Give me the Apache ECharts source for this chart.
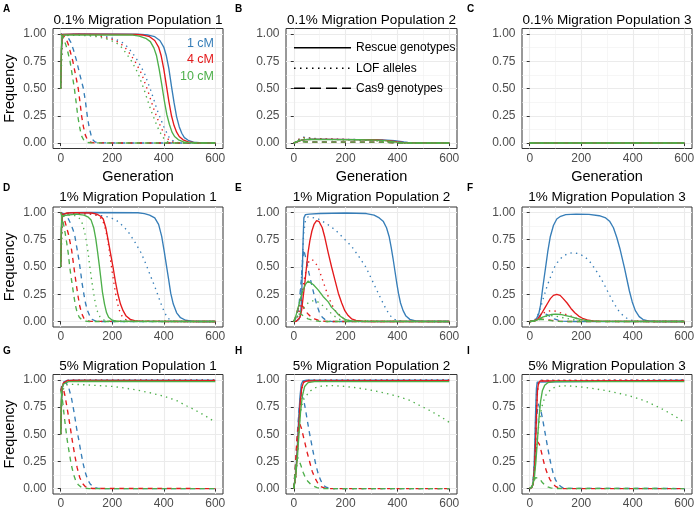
<!DOCTYPE html>
<html><head><meta charset="utf-8">
<script src="https://cdn.jsdelivr.net/npm/echarts@6/dist/echarts.min.js"></script>
<style>html,body{margin:0;padding:0;background:#fff}#c{width:700px;height:510px}</style>
</head><body><div id="c"></div>
<script>
// ---------- tick labels ----------
const xTicks = [0, 200, 400, 600];
const xMinor = [100, 300, 500];
const yTicks = [0, 0.25, 0.5, 0.75, 1];
const yMinor = [0.125, 0.375, 0.625, 0.875];
const panelLetters = ['A','B','C','D','E','F','G','H','I'];
const panelTitles = ['0.1% Migration Population 1','0.1% Migration Population 2','0.1% Migration Population 3',
  '1% Migration Population 1','1% Migration Population 2','1% Migration Population 3',
  '5% Migration Population 1','5% Migration Population 2','5% Migration Population 3'];
const distances = ['1 cM','4 cM','10 cM'];
const typeLabels = ['Rescue genotypes','LOF alleles','Cas9 genotypes'];

// ---------- Panel A : 0.1% pop 1 ----------
const A_res_1cM = [[0,0.5],[3,0.85],[6,0.97],[10,0.995],[60,1],[300,0.998],[340,0.99],[365,0.975],[385,0.94],[400,0.88],[410,0.8],[420,0.68],[430,0.52],[440,0.37],[450,0.24],[460,0.15],[470,0.09],[480,0.05],[495,0.025],[515,0.008],[550,0.001],[600,0]];
const A_res_4cM = [[0,0.5],[3,0.87],[6,0.975],[10,0.995],[60,0.998],[290,0.995],[320,0.99],[345,0.975],[365,0.94],[380,0.88],[390,0.8],[400,0.68],[410,0.53],[420,0.38],[430,0.25],[440,0.16],[450,0.1],[460,0.06],[475,0.03],[495,0.01],[530,0.001],[600,0]];
const A_res_10cM = [[0,0.5],[2,0.85],[5,0.97],[10,0.99],[60,0.992],[280,0.99],[305,0.98],[330,0.96],[348,0.93],[362,0.87],[372,0.8],[382,0.68],[392,0.54],[402,0.39],[412,0.26],[422,0.17],[432,0.1],[442,0.06],[457,0.03],[477,0.01],[510,0.001],[600,0]];
const A_lof_1cM = [[0,0.5],[5,0.9],[10,0.97],[20,0.99],[60,0.998],[120,0.995],[160,0.985],[210,0.955],[240,0.92],[260,0.88],[280,0.82],[300,0.75],[325,0.64],[350,0.48],[375,0.3],[400,0.15],[420,0.055],[440,0.012],[460,0.002],[600,0]];
const A_lof_4cM = [[0,0.5],[5,0.9],[10,0.97],[20,0.99],[60,0.995],[110,0.99],[150,0.98],[200,0.95],[228,0.92],[248,0.88],[268,0.82],[288,0.75],[313,0.64],[338,0.48],[363,0.3],[388,0.15],[408,0.055],[428,0.012],[448,0.002],[600,0]];
const A_lof_10cM = [[0,0.5],[5,0.9],[10,0.97],[20,0.985],[60,0.99],[100,0.985],[140,0.975],[185,0.95],[215,0.92],[235,0.88],[255,0.82],[275,0.75],[300,0.64],[325,0.48],[350,0.3],[375,0.15],[395,0.055],[415,0.012],[435,0.002],[600,0]];
const A_cas_1cM = [[0,1],[10,0.995],[25,0.98],[40,0.92],[50,0.85],[62,0.75],[75,0.62],[88,0.5],[96,0.38],[103,0.25],[110,0.15],[118,0.07],[126,0.025],[135,0.008],[150,0.001],[600,0]];
const A_cas_4cM = [[0,1],[8,0.99],[20,0.96],[30,0.9],[38,0.83],[47,0.75],[58,0.62],[68,0.5],[75,0.37],[81,0.25],[88,0.15],[96,0.07],[105,0.025],[115,0.007],[130,0.001],[600,0]];
const A_cas_10cM = [[0,1],[5,0.985],[12,0.95],[20,0.9],[28,0.83],[36,0.75],[45,0.62],[53,0.5],[60,0.37],[66,0.25],[73,0.15],[80,0.07],[90,0.025],[100,0.007],[115,0.001],[600,0]];

// ---------- Panel B : 0.1% pop 2 ----------
const B_res_1cM = [[0,0],[10,0.008],[20,0.018],[30,0.026],[45,0.032],[70,0.035],[150,0.034],[250,0.032],[320,0.03],[360,0.027],[390,0.022],[410,0.016],[425,0.01],[440,0.005],[460,0.001],[600,0]];
const B_res_4cM = [[0,0],[10,0.008],[20,0.018],[30,0.026],[45,0.032],[70,0.034],[150,0.033],[250,0.031],[320,0.028],[350,0.025],[380,0.018],[400,0.011],[420,0.005],[440,0.001],[600,0]];
const B_res_10cM = [[0,0],[10,0.01],[20,0.02],[30,0.027],[45,0.031],[70,0.033],[150,0.032],[250,0.03],[320,0.027],[350,0.022],[375,0.015],[395,0.008],[415,0.003],[440,0],[600,0]];
const B_lof_1cM = [[0,0],[10,0.015],[20,0.035],[30,0.05],[40,0.055],[55,0.05],[80,0.043],[120,0.038],[200,0.034],[300,0.03],[350,0.025],[380,0.018],[400,0.012],[420,0.005],[440,0.001],[600,0]];
const B_lof_4cM = [[0,0],[10,0.015],[20,0.035],[30,0.048],[40,0.05],[55,0.046],[80,0.04],[120,0.036],[200,0.032],[300,0.027],[340,0.02],[370,0.012],[390,0.006],[410,0.002],[430,0],[600,0]];
const B_lof_10cM = [[0,0],[10,0.012],[20,0.03],[30,0.042],[40,0.045],[55,0.042],[80,0.038],[120,0.034],[200,0.03],[300,0.024],[330,0.018],[360,0.01],[380,0.005],[400,0.001],[600,0]];
const B_cas_1cM = [[0,0],[10,0.012],[20,0.018],[30,0.016],[45,0.012],[70,0.01],[200,0.009],[350,0.009],[380,0.006],[400,0.003],[420,0.001],[600,0]];
const B_cas_4cM = [[0,0],[10,0.012],[20,0.017],[30,0.015],[45,0.011],[70,0.009],[200,0.009],[340,0.008],[370,0.005],[390,0.002],[410,0],[600,0]];
const B_cas_10cM = [[0,0],[10,0.012],[20,0.016],[35,0.012],[60,0.009],[200,0.009],[330,0.008],[360,0.005],[380,0.002],[400,0],[600,0]];

// ---------- Panel C : 0.1% pop 3 ----------
const C_res_1cM = [[0,0],[600,0]];
const C_res_4cM = [[0,0],[600,0]];
const C_res_10cM = [[0,0],[600,0]];
const C_lof_1cM = [[0,0],[600,0]];
const C_lof_4cM = [[0,0],[600,0]];
const C_lof_10cM = [[0,0],[600,0]];
const C_cas_1cM = [[0,0],[600,0]];
const C_cas_4cM = [[0,0],[600,0]];
const C_cas_10cM = [[0,0],[600,0]];

// ---------- Panel D : 1% pop 1 ----------
const D_res_1cM = [[0,0.5],[3,0.85],[6,0.96],[12,0.985],[30,0.997],[100,1],[300,0.997],[325,0.99],[345,0.975],[365,0.95],[380,0.89],[392,0.78],[402,0.64],[410,0.52],[418,0.4],[427,0.26],[437,0.16],[450,0.08],[465,0.035],[485,0.012],[510,0.003],[550,0],[600,0]];
const D_res_4cM = [[0,0.5],[3,0.85],[6,0.96],[12,0.985],[25,0.995],[60,0.998],[120,0.995],[140,0.985],[155,0.965],[165,0.94],[175,0.86],[183,0.76],[193,0.63],[203,0.5],[212,0.37],[222,0.25],[232,0.16],[242,0.1],[254,0.05],[270,0.02],[290,0.006],[320,0.001],[600,0]];
const D_res_10cM = [[0,0.5],[2,0.85],[5,0.97],[10,0.985],[60,0.985],[90,0.975],[105,0.96],[118,0.93],[128,0.86],[136,0.76],[143,0.64],[150,0.51],[156,0.39],[162,0.27],[170,0.16],[178,0.08],[186,0.04],[200,0.012],[220,0.002],[600,0]];
const D_lof_1cM = [[0,0.5],[5,0.9],[10,0.97],[20,0.985],[60,0.99],[120,0.985],[160,0.97],[190,0.955],[215,0.93],[240,0.88],[260,0.83],[285,0.74],[312,0.63],[332,0.52],[350,0.41],[370,0.29],[388,0.17],[400,0.1],[414,0.035],[430,0.008],[450,0.001],[600,0]];
const D_lof_4cM = [[0,0.5],[5,0.9],[10,0.97],[20,0.985],[60,0.99],[120,0.985],[145,0.97],[160,0.94],[170,0.88],[180,0.78],[188,0.66],[196,0.52],[204,0.39],[212,0.27],[220,0.17],[228,0.1],[238,0.05],[250,0.02],[270,0.004],[600,0]];
const D_lof_10cM = [[0,0.5],[5,0.9],[10,0.96],[20,0.975],[50,0.975],[70,0.955],[82,0.91],[92,0.83],[100,0.73],[107,0.62],[113,0.5],[120,0.38],[127,0.27],[135,0.16],[143,0.09],[152,0.045],[165,0.015],[185,0.003],[600,0]];
const D_cas_1cM = [[0,1],[10,0.99],[20,0.97],[30,0.94],[40,0.89],[48,0.84],[55,0.78],[63,0.67],[71,0.56],[77,0.46],[83,0.35],[90,0.25],[96,0.17],[104,0.1],[113,0.05],[122,0.02],[135,0.005],[150,0],[600,0]];
const D_cas_4cM = [[0,1],[8,0.98],[15,0.93],[22,0.87],[30,0.8],[36,0.73],[42,0.66],[50,0.52],[58,0.38],[66,0.25],[74,0.14],[82,0.07],[90,0.03],[100,0.01],[115,0.002],[600,0]];
const D_cas_10cM = [[0,1],[5,0.96],[12,0.88],[18,0.8],[24,0.71],[29,0.63],[35,0.5],[42,0.38],[50,0.25],[57,0.15],[64,0.08],[72,0.04],[82,0.015],[95,0.004],[110,0],[600,0]];

// ---------- Panel E : 1% pop 2 ----------
const E_res_1cM = [[0,0],[10,0.005],[20,0.02],[26,0.06],[30,0.2],[33,0.45],[36,0.75],[39,0.95],[45,0.98],[60,0.985],[100,0.99],[200,0.995],[280,0.99],[310,0.975],[330,0.95],[345,0.92],[358,0.86],[368,0.78],[376,0.68],[383,0.58],[390,0.47],[397,0.36],[404,0.26],[412,0.17],[422,0.1],[433,0.05],[448,0.02],[470,0.005],[500,0.001],[600,0]];
const E_res_4cM = [[0,0],[10,0.003],[17,0.01],[24,0.04],[30,0.1],[36,0.22],[43,0.36],[50,0.52],[55,0.63],[62,0.74],[70,0.83],[78,0.89],[88,0.925],[98,0.915],[110,0.86],[120,0.77],[133,0.63],[146,0.5],[159,0.38],[172,0.26],[185,0.17],[197,0.1],[210,0.055],[223,0.025],[240,0.01],[262,0.003],[290,0],[600,0]];
const E_res_10cM = [[0,0],[8,0.05],[17,0.13],[27,0.22],[36,0.29],[45,0.34],[55,0.37],[62,0.37],[75,0.34],[94,0.29],[113,0.23],[133,0.18],[146,0.13],[159,0.1],[172,0.065],[185,0.04],[198,0.02],[210,0.01],[230,0.003],[600,0]];
const E_lof_1cM = [[0,0],[15,0.05],[25,0.2],[32,0.5],[38,0.8],[45,0.93],[55,0.96],[70,0.955],[95,0.94],[125,0.9],[160,0.84],[190,0.77],[223,0.69],[250,0.6],[278,0.5],[300,0.39],[320,0.29],[338,0.2],[355,0.12],[370,0.06],[385,0.025],[400,0.008],[420,0.002],[600,0]];
const E_lof_4cM = [[0,0],[10,0.02],[20,0.08],[30,0.23],[40,0.38],[50,0.5],[60,0.56],[70,0.57],[80,0.55],[94,0.5],[107,0.41],[120,0.32],[133,0.23],[146,0.16],[160,0.1],[172,0.07],[190,0.03],[210,0.012],[240,0.003],[600,0]];
const E_lof_10cM = [[0,0],[10,0.03],[20,0.07],[30,0.1],[43,0.14],[55,0.17],[70,0.19],[85,0.19],[100,0.17],[120,0.13],[135,0.1],[146,0.07],[160,0.045],[172,0.025],[190,0.01],[210,0.003],[600,0]];
const E_cas_1cM = [[0,0],[10,0.04],[20,0.15],[28,0.35],[34,0.55],[38,0.66],[43,0.66],[50,0.55],[58,0.45],[68,0.35],[78,0.25],[88,0.16],[98,0.09],[110,0.04],[120,0.02],[135,0.005],[150,0],[600,0]];
const E_cas_4cM = [[0,0],[8,0.05],[15,0.11],[22,0.15],[28,0.16],[35,0.14],[43,0.1],[55,0.07],[68,0.04],[80,0.025],[94,0.012],[110,0.004],[130,0],[600,0]];
const E_cas_10cM = [[0,0],[8,0.04],[15,0.07],[22,0.075],[30,0.065],[43,0.04],[55,0.025],[68,0.015],[85,0.006],[100,0.002],[120,0],[600,0]];

// ---------- Panel F : 1% pop 3 ----------
const F_res_1cM = [[0,0],[15,0.005],[25,0.02],[35,0.07],[42,0.15],[50,0.3],[57,0.42],[63,0.52],[70,0.64],[80,0.78],[92,0.88],[105,0.94],[120,0.965],[140,0.98],[180,0.985],[230,0.983],[270,0.97],[295,0.95],[310,0.92],[325,0.86],[338,0.77],[350,0.67],[360,0.57],[368,0.49],[377,0.39],[387,0.28],[398,0.18],[410,0.1],[425,0.045],[440,0.018],[460,0.005],[490,0],[600,0]];
const F_res_4cM = [[0,0],[20,0.005],[30,0.02],[40,0.05],[50,0.09],[60,0.13],[70,0.17],[80,0.21],[92,0.24],[105,0.25],[118,0.24],[130,0.21],[145,0.17],[160,0.12],[175,0.08],[190,0.05],[205,0.03],[223,0.015],[245,0.005],[280,0.001],[600,0]];
const F_res_10cM = [[0,0],[20,0.005],[35,0.02],[50,0.04],[68,0.055],[85,0.065],[100,0.068],[120,0.065],[140,0.055],[158,0.045],[180,0.03],[200,0.018],[225,0.008],[260,0.002],[600,0]];
const F_lof_1cM = [[0,0],[15,0.005],[25,0.03],[35,0.08],[45,0.15],[55,0.23],[68,0.33],[81,0.41],[94,0.49],[107,0.54],[125,0.59],[145,0.62],[165,0.63],[185,0.625],[210,0.6],[230,0.56],[248,0.5],[268,0.43],[287,0.35],[306,0.26],[326,0.17],[345,0.1],[364,0.05],[384,0.02],[403,0.007],[430,0.001],[600,0]];
const F_lof_4cM = [[0,0],[20,0.01],[30,0.03],[40,0.05],[55,0.08],[70,0.095],[85,0.1],[100,0.095],[120,0.08],[140,0.065],[160,0.05],[180,0.03],[200,0.018],[225,0.008],[260,0.002],[600,0]];
const F_lof_10cM = [[0,0],[20,0.008],[35,0.025],[50,0.04],[65,0.05],[80,0.055],[100,0.05],[120,0.04],[140,0.03],[160,0.02],[185,0.01],[210,0.004],[240,0.001],[600,0]];
const F_cas_1cM = [[0,0],[20,0.01],[35,0.04],[45,0.07],[55,0.075],[65,0.065],[80,0.045],[95,0.025],[110,0.012],[130,0.004],[160,0],[600,0]];
const F_cas_4cM = [[0,0],[20,0.008],[35,0.018],[45,0.022],[55,0.02],[70,0.015],[85,0.01],[100,0.005],[120,0.002],[150,0],[600,0]];
const F_cas_10cM = [[0,0],[20,0.01],[35,0.018],[45,0.02],[60,0.016],[75,0.011],[90,0.006],[110,0.002],[140,0],[600,0]];

// ---------- Panel G : 5% pop 1 ----------
const G_res_1cM = [[0,0.5],[3,0.8],[6,0.92],[10,0.965],[15,0.985],[25,0.995],[50,0.998],[600,0.997]];
const G_res_4cM = [[0,0.5],[3,0.82],[6,0.93],[10,0.97],[15,0.985],[25,0.993],[50,0.995],[600,0.993]];
const G_res_10cM = [[0,0.5],[2,0.8],[5,0.92],[10,0.96],[17,0.975],[30,0.985],[100,0.988],[600,0.984]];
const G_lof_1cM = [[0,0.5],[4,0.85],[8,0.95],[15,0.985],[30,0.998],[600,1]];
const G_lof_4cM = [[0,0.5],[4,0.85],[8,0.95],[15,0.985],[30,0.997],[600,0.999]];
const G_lof_10cM = [[0,0.5],[4,0.8],[8,0.9],[15,0.94],[25,0.955],[50,0.96],[94,0.955],[150,0.948],[200,0.94],[250,0.925],[300,0.905],[350,0.88],[400,0.85],[450,0.81],[490,0.76],[520,0.725],[550,0.685],[575,0.65],[600,0.61]];
const G_cas_1cM = [[0,0.9],[5,0.96],[12,0.985],[22,0.97],[32,0.92],[42,0.83],[52,0.7],[62,0.55],[70,0.45],[78,0.34],[86,0.24],[95,0.15],[105,0.08],[115,0.04],[128,0.013],[145,0.002],[160,0],[600,0]];
const G_cas_4cM = [[0,0.9],[5,0.94],[10,0.92],[17,0.85],[27,0.71],[36,0.58],[45,0.44],[55,0.3],[64,0.19],[74,0.1],[85,0.045],[96,0.017],[110,0.005],[125,0.001],[600,0]];
const G_cas_10cM = [[0,0.9],[4,0.86],[8,0.79],[13,0.68],[18,0.58],[25,0.45],[33,0.33],[41,0.22],[50,0.13],[58,0.075],[68,0.035],[80,0.012],[95,0.003],[110,0],[600,0]];

// ---------- Panel H : 5% pop 2 ----------
const H_res_1cM = [[0,0],[8,0.15],[14,0.4],[19,0.65],[24,0.85],[29,0.96],[35,0.99],[50,0.997],[600,0.997]];
const H_res_4cM = [[0,0],[8,0.13],[15,0.38],[20,0.6],[25,0.8],[31,0.93],[38,0.98],[50,0.99],[600,0.993]];
const H_res_10cM = [[0,0],[8,0.12],[15,0.32],[20,0.5],[26,0.7],[33,0.85],[42,0.94],[55,0.975],[80,0.985],[600,0.985]];
const H_lof_1cM = [[0,0],[8,0.12],[15,0.38],[21,0.65],[27,0.87],[33,0.96],[40,0.99],[60,0.998],[600,1]];
const H_lof_4cM = [[0,0],[8,0.1],[15,0.35],[21,0.6],[27,0.82],[33,0.94],[40,0.985],[60,0.997],[600,0.999]];
const H_lof_10cM = [[0,0],[8,0.15],[15,0.4],[22,0.62],[30,0.76],[40,0.83],[50,0.86],[65,0.9],[85,0.93],[110,0.945],[150,0.948],[200,0.94],[250,0.925],[300,0.905],[350,0.88],[400,0.85],[450,0.81],[490,0.76],[520,0.725],[550,0.685],[575,0.65],[600,0.61]];
const H_cas_1cM = [[0,0],[8,0.25],[15,0.55],[22,0.78],[28,0.87],[32,0.88],[38,0.82],[45,0.73],[52,0.63],[60,0.52],[68,0.42],[77,0.31],[86,0.21],[95,0.13],[105,0.07],[115,0.03],[125,0.012],[138,0.003],[150,0],[600,0]];
const H_cas_4cM = [[0,0],[6,0.2],[12,0.45],[18,0.58],[23,0.6],[30,0.55],[37,0.48],[43,0.42],[52,0.33],[62,0.24],[71,0.16],[81,0.1],[94,0.045],[107,0.015],[120,0.004],[135,0],[600,0]];
const H_cas_10cM = [[0,0],[5,0.15],[10,0.25],[15,0.29],[20,0.28],[28,0.21],[36,0.15],[45,0.1],[55,0.065],[65,0.04],[78,0.02],[90,0.008],[105,0.002],[120,0],[600,0]];

// ---------- Panel I : 5% pop 3 ----------
const I_res_1cM = [[0,0],[8,0.01],[13,0.05],[17,0.2],[20,0.45],[23,0.72],[26,0.92],[29,0.98],[35,0.995],[600,0.997]];
const I_res_4cM = [[0,0],[8,0.01],[14,0.05],[19,0.2],[23,0.45],[27,0.72],[30,0.9],[34,0.97],[40,0.99],[600,0.993]];
const I_res_10cM = [[0,0],[10,0.02],[18,0.1],[24,0.25],[30,0.45],[36,0.65],[42,0.8],[49,0.9],[58,0.95],[70,0.975],[100,0.985],[600,0.985]];
const I_lof_1cM = [[0,0],[10,0.01],[15,0.08],[19,0.3],[23,0.65],[27,0.9],[32,0.98],[40,0.998],[600,1]];
const I_lof_4cM = [[0,0],[10,0.01],[16,0.08],[21,0.3],[25,0.6],[29,0.85],[34,0.96],[42,0.995],[600,0.999]];
const I_lof_10cM = [[0,0],[10,0.03],[20,0.2],[28,0.42],[35,0.58],[42,0.69],[50,0.78],[60,0.85],[68,0.88],[85,0.92],[100,0.935],[120,0.945],[150,0.945],[200,0.935],[250,0.92],[300,0.9],[350,0.875],[400,0.845],[450,0.805],[490,0.76],[520,0.725],[550,0.685],[575,0.65],[600,0.61]];
const I_cas_1cM = [[0,0],[10,0.02],[17,0.15],[23,0.45],[28,0.68],[33,0.78],[38,0.77],[45,0.7],[53,0.6],[62,0.48],[71,0.36],[81,0.24],[90,0.15],[100,0.08],[112,0.035],[126,0.01],[140,0.002],[600,0]];
const I_cas_4cM = [[0,0],[10,0.02],[17,0.12],[22,0.28],[27,0.4],[31,0.43],[37,0.41],[43,0.36],[49,0.3],[58,0.21],[68,0.14],[78,0.085],[88,0.05],[100,0.02],[113,0.005],[130,0],[600,0]];
const I_cas_10cM = [[0,0],[10,0.02],[17,0.07],[22,0.1],[27,0.11],[35,0.095],[43,0.075],[49,0.055],[60,0.03],[70,0.015],[81,0.006],[95,0.001],[600,0]];

// ---------- assemble ----------
const panelData = [
  [[A_res_1cM,A_lof_1cM,A_cas_1cM],[A_res_4cM,A_lof_4cM,A_cas_4cM],[A_res_10cM,A_lof_10cM,A_cas_10cM]],
  [[B_res_1cM,B_lof_1cM,B_cas_1cM],[B_res_4cM,B_lof_4cM,B_cas_4cM],[B_res_10cM,B_lof_10cM,B_cas_10cM]],
  [[C_res_1cM,C_lof_1cM,C_cas_1cM],[C_res_4cM,C_lof_4cM,C_cas_4cM],[C_res_10cM,C_lof_10cM,C_cas_10cM]],
  [[D_res_1cM,D_lof_1cM,D_cas_1cM],[D_res_4cM,D_lof_4cM,D_cas_4cM],[D_res_10cM,D_lof_10cM,D_cas_10cM]],
  [[E_res_1cM,E_lof_1cM,E_cas_1cM],[E_res_4cM,E_lof_4cM,E_cas_4cM],[E_res_10cM,E_lof_10cM,E_cas_10cM]],
  [[F_res_1cM,F_lof_1cM,F_cas_1cM],[F_res_4cM,F_lof_4cM,F_cas_4cM],[F_res_10cM,F_lof_10cM,F_cas_10cM]],
  [[G_res_1cM,G_lof_1cM,G_cas_1cM],[G_res_4cM,G_lof_4cM,G_cas_4cM],[G_res_10cM,G_lof_10cM,G_cas_10cM]],
  [[H_res_1cM,H_lof_1cM,H_cas_1cM],[H_res_4cM,H_lof_4cM,H_cas_4cM],[H_res_10cM,H_lof_10cM,H_cas_10cM]],
  [[I_res_1cM,I_lof_1cM,I_cas_1cM],[I_res_4cM,I_lof_4cM,I_cas_4cM],[I_res_10cM,I_lof_10cM,I_cas_10cM]]
];

const COLORS = ['#377EB8','#E41A1C','#4DAF4A'];
const DASH = ['solid',[1.4,4.2],[5,4.5]];
const FONT = '"Liberation Sans", Arial, Helvetica, sans-serif';
const colLeft = [53, 286, 522], colWidth = [170, 171, 170];
const rowTop = [28.5, 207, 374.5], rowH = 120;

const grid = [], xAxis = [], yAxis = [], series = [], graphic = [];
for (let i = 0; i < 9; i++) {
  const r = Math.floor(i / 3), c = i % 3;
  grid.push({left: colLeft[c], top: rowTop[r], width: colWidth[c], height: rowH,
    show: true, backgroundColor: '#fff', borderColor: '#333333', borderWidth: 1, containLabel: false});
  xAxis.push({gridIndex: i, type: 'value', min: -30, max: 630, position: 'bottom',
    axisLine: {show: false},
    axisTick: {show: true, customValues: xTicks, length: 3, lineStyle: {color: '#333333', width: 1}},
    axisLabel: {customValues: xTicks, color: '#4D4D4D', fontSize: 12, margin: 4, fontFamily: FONT},
    splitLine: {show: true, lineStyle: {color: '#EBEBEB', width: 1.1}},
    name: r === 0 ? 'Generation' : '', nameLocation: 'middle', nameGap: 21,
    nameTextStyle: {color: '#000', fontSize: 14.5, fontFamily: FONT}});
  xAxis.push({gridIndex: i, type: 'value', min: -30, max: 630, position: 'top',
    axisLine: {show: false}, axisTick: {show: false, customValues: xMinor},
    axisLabel: {show: false, customValues: xMinor},
    splitLine: {show: true, lineStyle: {color: '#F0F0F0', width: 0.6}}});
  yAxis.push({gridIndex: i, type: 'value', min: -0.05, max: 1.05, position: 'left',
    axisLine: {show: false},
    axisTick: {show: true, customValues: yTicks, length: 3, lineStyle: {color: '#333333', width: 1}},
    axisLabel: {customValues: yTicks, color: '#4D4D4D', fontSize: 12, margin: 6.5, fontFamily: FONT,
      formatter: v => Number(v).toFixed(2)},
    splitLine: {show: true, lineStyle: {color: '#EBEBEB', width: 1.1}},
    name: c === 0 ? 'Frequency' : '', nameLocation: 'middle', nameGap: 36,
    nameTextStyle: {color: '#000', fontSize: 14.5, fontFamily: FONT}});
  yAxis.push({gridIndex: i, type: 'value', min: -0.05, max: 1.05, position: 'right',
    axisLine: {show: false}, axisTick: {show: false, customValues: yMinor},
    axisLabel: {show: false, customValues: yMinor},
    splitLine: {show: true, lineStyle: {color: '#F0F0F0', width: 0.6}}});
  for (let k = 0; k < 3; k++) {
    for (let t = 0; t < 3; t++) {
      series.push({type: 'line', xAxisIndex: 2 * i, yAxisIndex: 2 * i, data: panelData[i][k][t],
        showSymbol: false, symbol: 'none', silent: true, animation: false,
        lineStyle: {color: COLORS[k], width: 1.35, type: DASH[t], cap: 'butt'}});
    }
  }
  const cx = colLeft[c] + colWidth[c] / 2;
  const ty = [20, 197.5, 366][r];
  graphic.push({type: 'text', z: 100, x: cx, y: ty, style: {text: panelTitles[i], fill: '#000',
    font: '13.5px ' + FONT, align: 'center', verticalAlign: 'middle'}});
  const lx = [3, 235, 467][c], ly = [9.5, 188.5, 351][r];
  graphic.push({type: 'text', z: 100, x: lx, y: ly, style: {text: panelLetters[i], fill: '#000',
    font: 'bold 10px ' + FONT, align: 'left', verticalAlign: 'middle'}});
}
// legend for distances (panel A)
const distY = [43.5, 60, 76.5];
for (let k = 0; k < 3; k++) {
  graphic.push({type: 'text', z: 100, x: 214, y: distY[k], style: {text: distances[k], fill: COLORS[k],
    font: '12.5px ' + FONT, align: 'right', verticalAlign: 'middle'}});
}
// legend for genotype types (panel B)
const keyY = [47.7, 68.3, 88.3];
const keyDash = [null, [1.5, 4.5], [11, 5]];
for (let t = 0; t < 3; t++) {
  graphic.push({type: 'line', z: 100, shape: {x1: 294, y1: keyY[t], x2: 351, y2: keyY[t]},
    style: {stroke: '#000', lineWidth: 1.4, lineDash: keyDash[t]}});
  graphic.push({type: 'text', z: 100, x: 356, y: keyY[t], style: {text: typeLabels[t], fill: '#000',
    font: '12px ' + FONT, align: 'left', verticalAlign: 'middle'}});
}

const chart = echarts.init(document.getElementById('c'), null, {renderer: 'canvas'});
chart.setOption({animation: false, backgroundColor: '#fff', grid, xAxis, yAxis, series, graphic});
</script>
</body></html>
